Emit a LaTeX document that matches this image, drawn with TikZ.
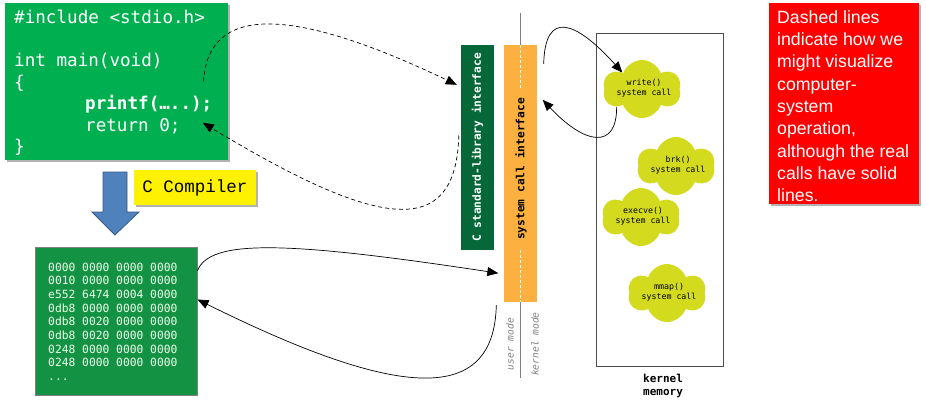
\documentclass[tikz,border=0pt]{standalone}
\usepackage{fontspec}
\setmainfont{Liberation Sans}
\newfontfamily\codefont{DejaVu Sans Mono}
\newfontfamily\courfont{Liberation Mono}
\usetikzlibrary{arrows.meta,calc,shapes.symbols,shadows}
\definecolor{codegreen}{RGB}{0,176,80}
\definecolor{hexgreen}{RGB}{18,146,66}
\definecolor{libgreen}{RGB}{6,104,56}
\definecolor{sysorange}{RGB}{251,176,64}
\definecolor{cloudyellow}{RGB}{212,219,30}
\definecolor{arrowblue}{RGB}{79,129,189}
\begin{document}
\begin{tikzpicture}[x=1pt,y=-1pt,
  codeline/.style={anchor=base west,inner sep=0,text=white,font={\codefont\fontsize{17.6}{21}\selectfont}},
  hexline/.style={anchor=base west,inner sep=0,text=green!8!white,font={\codefont\fontsize{11.3}{13}\selectfont}},
  boxshadow/.style={drop shadow={shadow xshift=2pt,shadow yshift=-2pt,opacity=.3,fill=black}},
  bar/.style={rectangle,inner sep=0,minimum width=33},
  bartext/.style={rotate=90,inner sep=0,font={\codefont\bfseries\fontsize{11.2}{13}\selectfont}},
  modetext/.style={rotate=90,inner sep=0,text=gray,font={\codefont\itshape\fontsize{9.6}{11}\selectfont}},
  syscall/.style={cloud,cloud puffs=6,cloud puff arc=140,aspect=1.3,fill=cloudyellow,
    minimum width=78,minimum height=58,inner sep=0},
  calltext/.style={align=center,inner sep=0,font={\codefont\fontsize{8.3}{10}\selectfont}},
  call/.style={-{Triangle[length=11pt,width=9pt]},line width=0.7pt},
  dashcall/.style={call,dash pattern=on 4pt off 3pt}]

\useasboundingbox[fill=white] (0,0) rectangle (926,405);

% source code
\node[rectangle,fill=codegreen,minimum width=223,minimum height=157,boxshadow] (code) at (116.5,81.5) {};
\node[codeline] (inc) at (14,23) {\#include <stdio.h>};
\node[codeline] (main) at (14,66) {int main(void)};
\node[codeline] (lbrace) at (14,88) {\{};
\node[codeline,font={\codefont\bfseries\fontsize{17.6}{21}\selectfont}] (printf) at (85,109) {printf(…..);};
\node[codeline] (ret) at (85,131) {return 0;};
\node[codeline] (rbrace) at (14,152) {\}};

% compiler
\draw[fill=arrowblue,draw=arrowblue!70!black,line width=0.8pt]
  (103,172) -- (127,172) -- (127,212) -- (139,212) -- (115,235) -- (92,212) -- (103,212) -- cycle;
\node[rectangle,fill=yellow,minimum width=122,minimum height=35,boxshadow,
  font={\courfont\fontsize{17.5}{20}\selectfont}] (cc) at (195,187.5) {C Compiler};

% binary
\node[rectangle,fill=hexgreen,draw=gray,line width=1pt,minimum width=162,minimum height=148] (hex) at (116,321) {};
\foreach \row [count=\i] in {0000 0000 0000 0000,0010 0000 0000 0000,e552 6474 0004 0000,
  0db8 0000 0000 0000,0db8 0020 0000 0000,0db8 0020 0000 0000,0248 0000 0000 0000,0248 0000 0000 0000}
  \node[hexline] (hex\i) at (48,{271+13.7*(\i-1)}) {\row};
\node[hexline] (hexdots) at (48,380) {...};

% interfaces
\draw[gray,line width=1pt] (520,13) -- (520,378);
\node[bar,fill=libgreen,minimum height=205] (lib) at (477.5,147.5) {};
\node[bar,fill=sysorange,minimum height=257] (sys) at (520,173.5) {};
\draw[white,line width=0.8pt,dash pattern=on 3pt off 2pt] (520,45) -- (520,90) (520,250) -- (520,302);
\node[bartext,text=white] (libtext) at (lib) {C standard-library interface};
\node[bartext] (systext) at (521,169) {system call interface};
\node[modetext] (user) at (510,344) {user mode};
\node[modetext] (kmode) at (535,344) {kernel mode};

% kernel
\draw[gray!60!black,line width=1pt] (596,33) rectangle (723,366);
\node[syscall] (write) at (642,89) {};
\node[syscall] (brk) at (676,166) {};
\node[syscall] (execve) at (641,217) {};
\node[syscall] (mmap) at (667,293) {};
\node[calltext] (writetext) at (644,88) {write()\\system call};
\node[calltext] (brktext) at (678,165) {brk()\\system call};
\node[calltext] (execvetext) at (643,216) {execve()\\system call};
\node[calltext] (mmaptext) at (669,292) {mmap()\\system call};
\node[align=center,inner sep=0,font={\codefont\bfseries\fontsize{11}{13}\selectfont}] (kmem) at (663,386) {kernel\\memory};

% note
\node[rectangle,fill=red,minimum width=150,minimum height=201,boxshadow] (note) at (844,103.5) {};
\node[anchor=north west,inner sep=0,align=left,text=white,font={\fontsize{17.7}{22.3}\selectfont}] (notetext) at (777,10.3)
  {Dashed lines\\indicate how we\\might visualize\\computer-\\system\\operation,\\although the real\\calls have solid\\lines.};

% calls
\draw[dashcall] ($(printf.north east)+(-9,-13)$) .. controls (208,5) and (290,5) .. ($(lib.north west)+(-4,40)$);
\draw[dashcall] ($(lib.west)+(-2,-12)$) .. controls (456,240) and (380,230) .. ($(ret.east)+(22,-3)$);
\draw[call] ($(hex.north east)+(0,24)$) .. controls (210,240) and (280,240) .. ($(sys.south west)+(-5,-29)$);
\draw[call] ($(sys.south west)+(-7,3)$) .. controls (494,405) and (400,400) .. ($(hex.north east)+(0,53)$);
\draw[call] ($(sys.north east)+(7,19)$) .. controls (545,10) and (575,20) .. (write.140);
\draw[call] (write.215) .. controls (617,150) and (585,145) .. ($(sys.north east)+(6,55)$);
\end{tikzpicture}
\end{document}
